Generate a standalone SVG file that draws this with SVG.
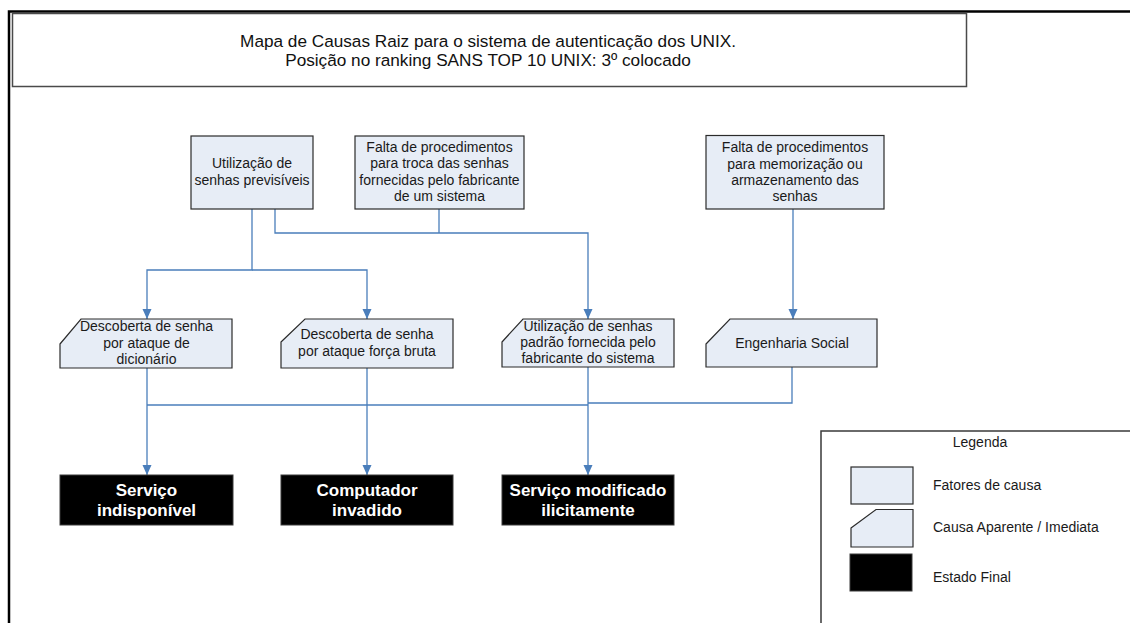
<svg xmlns="http://www.w3.org/2000/svg" width="1130" height="623" viewBox="0 0 1130 623">
<style>
.t{font-family:"Liberation Sans",Arial,sans-serif;font-size:14px;fill:#1a1a1a;text-anchor:middle}
.tl{font-family:"Liberation Sans",Arial,sans-serif;font-size:14px;fill:#1a1a1a}
.ttl{font-family:"Liberation Sans",Arial,sans-serif;font-size:17.2px;fill:#111;text-anchor:middle}
.fin{font-family:"Liberation Sans",Arial,sans-serif;font-size:17px;font-weight:bold;fill:#fff;text-anchor:middle}
.box{fill:#e7edf6;stroke:#2b2b2b;stroke-width:1.2}
.end{fill:#000;stroke:#3a3a3a;stroke-width:1}
.c{fill:none;stroke:#4a7ebb;stroke-width:1.3}
</style>
<defs>
<marker id="ah" markerUnits="userSpaceOnUse" markerWidth="10" markerHeight="10" refX="10" refY="4.5" orient="auto">
<path d="M0,0 L10,4.5 L0,9 z" fill="#4a7ebb"/>
</marker>
</defs>
<rect width="1130" height="623" fill="#fff"/>
<g id="frame">
<path d="M9,623 V11.5 H1130" fill="none" stroke="#000" stroke-width="2.5"/>
</g>
<g id="title">
<rect x="12.5" y="13.5" width="954" height="73" fill="#fff" stroke="#4a4a4a" stroke-width="1.5"/>
<text class="ttl" x="488" y="47">Mapa de Causas Raiz para o sistema de autenticação dos UNIX.</text>
<text class="ttl" x="488" y="66">Posição no ranking SANS TOP 10 UNIX: 3º colocado</text>
</g>
<g id="connectors">
<path class="c" d="M252,209 V270 H147 V319" marker-end="url(#ah)"/>
<path class="c" d="M252,270 H367 V319" marker-end="url(#ah)"/>
<path class="c" d="M275,209 V233 H588 V319" marker-end="url(#ah)"/>
<path class="c" d="M439,209 V233"/>
<path class="c" d="M793,209 V319" marker-end="url(#ah)"/>
<path class="c" d="M147,368 V475" marker-end="url(#ah)"/>
<path class="c" d="M367,368 V475" marker-end="url(#ah)"/>
<path class="c" d="M588,367 V475" marker-end="url(#ah)"/>
<path class="c" d="M147,405 H588"/>
<path class="c" d="M792,367 V403 H588"/>
</g>
<g id="n-previsiveis">
<rect class="box" x="191" y="136" width="122" height="73"/>
<text class="t" x="252" y="168">Utilização de</text>
<text class="t" x="252" y="185">senhas previsíveis</text>
</g>
<g id="n-falta-troca">
<rect class="box" x="355" y="136" width="169" height="73"/>
<text class="t" x="439.5" y="152">Falta de procedimentos</text>
<text class="t" x="439.5" y="168">para troca das senhas</text>
<text class="t" x="439.5" y="184.5">fornecidas pelo fabricante</text>
<text class="t" x="439.5" y="201">de um sistema</text>
</g>
<g id="n-falta-memo">
<rect class="box" x="706" y="135.5" width="178" height="73.5"/>
<text class="t" x="795" y="152">Falta de procedimentos</text>
<text class="t" x="795" y="168.5">para memorização ou</text>
<text class="t" x="795" y="185">armazenamento das</text>
<text class="t" x="795" y="201">senhas</text>
</g>
<g id="n-dicionario">
<polygon class="box" points="60,344 81,319 232,319 232,368 60,368"/>
<text class="t" x="146.5" y="331">Descoberta de senha</text>
<text class="t" x="146.5" y="347.5">por ataque de</text>
<text class="t" x="146.5" y="363.5">dicionário</text>
</g>
<g id="n-forca-bruta">
<polygon class="box" points="281,342 305,319 453,319 453,368 281,368"/>
<text class="t" x="367" y="339">Descoberta de senha</text>
<text class="t" x="367" y="356">por ataque força bruta</text>
</g>
<g id="n-padrao">
<polygon class="box" points="502,342 523,319 674,319 674,367 502,367"/>
<text class="t" x="588" y="331">Utilização de senhas</text>
<text class="t" x="588" y="347">padrão fornecida pelo</text>
<text class="t" x="588" y="363">fabricante do sistema</text>
</g>
<g id="n-engenharia">
<polygon class="box" points="706,344 730,319 877,319 877,367 706,367"/>
<text class="t" x="792" y="347.5">Engenharia Social</text>
</g>
<g id="n-indisponivel">
<rect class="end" x="60" y="475" width="173" height="50"/>
<text class="fin" x="146.5" y="496">Serviço</text>
<text class="fin" x="146.5" y="516">indisponível</text>
</g>
<g id="n-invadido">
<rect class="end" x="281" y="475" width="172" height="50"/>
<text class="fin" x="367" y="496">Computador</text>
<text class="fin" x="367" y="516">invadido</text>
</g>
<g id="n-modificado">
<rect class="end" x="502" y="475" width="172" height="50"/>
<text class="fin" x="588" y="496">Serviço modificado</text>
<text class="fin" x="588" y="516">ilicitamente</text>
</g>
<g id="legend">
<rect x="821" y="431" width="320" height="200" fill="#fff" stroke="#3a3a3a" stroke-width="1.5"/>
<text class="t" x="980" y="447">Legenda</text>
<rect class="box" x="851" y="467" width="62" height="37"/>
<text class="tl" x="933" y="490">Fatores de causa</text>
<polygon class="box" points="851,528 876,509.5 913,509.5 913,547 851,547"/>
<text class="tl" x="933" y="532">Causa Aparente / Imediata</text>
<rect class="end" x="850" y="554" width="62" height="37"/>
<text class="tl" x="933" y="582">Estado Final</text>
</g>
</svg>
